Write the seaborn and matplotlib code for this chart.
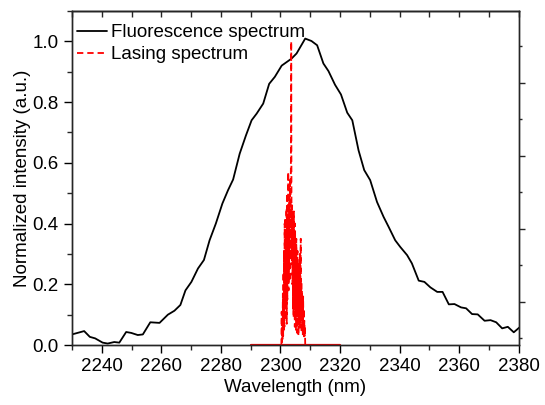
import pandas as pd
import seaborn as sns
import matplotlib.pyplot as plt
from matplotlib.ticker import MultipleLocator, FormatStrFormatter

# fluorescence spectrum
wl_fluo = [2230.0, 2234.1, 2236.0, 2237.8, 2240.3, 2242.0, 2244.2, 2245.9, 2248.2, 2249.9,
           2252.1, 2253.8, 2256.3, 2259.4, 2262.2, 2264.4, 2266.4, 2268.1, 2270.1, 2272.3,
           2274.3, 2276.2, 2278.3, 2280.5, 2282.4, 2284.1, 2286.3, 2288.4, 2290.3, 2292.0,
           2294.2, 2296.2, 2298.1, 2300.4, 2303.7, 2305.4, 2308.3, 2310.4, 2312.3, 2314.4,
           2316.1, 2318.3, 2320.3, 2322.4, 2324.1, 2326.2, 2328.1, 2330.1, 2332.4, 2334.6,
           2336.3, 2338.5, 2340.2, 2342.5, 2344.1, 2346.4, 2348.3, 2350.3, 2352.6, 2354.4,
           2356.5, 2358.4, 2360.6, 2362.3, 2364.3, 2366.2, 2368.5, 2370.5, 2372.4, 2374.4,
           2376.3, 2378.3, 2380.2]
int_fluo = [0.035, 0.046, 0.027, 0.022, 0.008, 0.005, 0.010, 0.008, 0.043, 0.040,
            0.033, 0.035, 0.075, 0.073, 0.100, 0.113, 0.132, 0.180, 0.208, 0.252,
            0.280, 0.345, 0.400, 0.466, 0.510, 0.545, 0.630, 0.690, 0.740, 0.762,
            0.795, 0.860, 0.883, 0.920, 0.943, 0.960, 1.009, 1.001, 0.987, 0.927,
            0.902, 0.857, 0.825, 0.765, 0.740, 0.641, 0.576, 0.543, 0.471, 0.422,
            0.389, 0.345, 0.323, 0.296, 0.269, 0.212, 0.208, 0.190, 0.175, 0.175,
            0.134, 0.135, 0.124, 0.121, 0.102, 0.101, 0.080, 0.082, 0.075, 0.055,
            0.060, 0.042, 0.058]

# lasing spectrum
wl_las = [2290.0, 2300.3, 2300.4, 2300.5, 2300.6, 2300.7, 2300.8, 2300.9, 2301.0, 2301.1,
          2301.2, 2301.3, 2301.4, 2301.5, 2301.6, 2301.7, 2301.8, 2301.9, 2302.0, 2302.1,
          2302.2, 2302.3, 2302.4, 2302.5, 2302.6, 2302.7, 2302.8, 2302.9, 2303.0, 2303.1,
          2303.2, 2303.3, 2303.4, 2303.5, 2303.6, 2303.7, 2303.8, 2303.9, 2304.0, 2304.1,
          2304.2, 2304.3, 2304.4, 2304.5, 2304.6, 2304.7, 2304.8, 2304.9, 2305.0, 2305.1,
          2305.2, 2305.3, 2305.4, 2305.5, 2305.6, 2305.7, 2305.8, 2305.9, 2306.0, 2306.1,
          2306.2, 2306.3, 2306.4, 2306.5, 2306.6, 2306.7, 2306.8, 2306.9, 2307.0, 2307.1,
          2307.2, 2307.3, 2307.4, 2307.5, 2307.6, 2307.7, 2307.8, 2307.9, 2308.0, 2308.1,
          2308.2, 2308.3, 2320.0]
int_las = [0.0, 0.0, 0.11, 0.01, 0.08, 0.02, 0.17, 0.03, 0.24, 0.05,
           0.31, 0.06, 0.40, 0.10, 0.42, 0.08, 0.36, 0.12, 0.45, 0.07,
           0.50, 0.15, 0.41, 0.22, 0.57, 0.18, 0.52, 0.26, 0.47, 0.21,
           0.55, 0.30, 0.44, 0.62, 1.00, 0.40, 0.28, 0.46, 0.20, 0.42,
           0.12, 0.38, 0.09, 0.44, 0.14, 0.36, 0.06, 0.40, 0.11, 0.33,
           0.05, 0.35, 0.10, 0.28, 0.04, 0.31, 0.09, 0.25, 0.03, 0.27,
           0.08, 0.22, 0.05, 0.30, 0.07, 0.24, 0.35, 0.10, 0.21, 0.04,
           0.18, 0.06, 0.15, 0.03, 0.16, 0.05, 0.12, 0.02, 0.08, 0.03,
           0.06, 0.0, 0.0]

fluo = pd.DataFrame({'wl': wl_fluo, 'I': int_fluo})
las = pd.DataFrame({'wl': wl_las, 'I': int_las})

sns.set_theme(style='ticks')
plt.rcParams['font.family'] = ['Liberation Sans', 'DejaVu Sans']
plt.rcParams['axes.linewidth'] = 1.0
plt.rcParams['text.color'] = 'black'
plt.rcParams['axes.labelcolor'] = 'black'

fig = plt.figure(figsize=(5.45, 4.05), dpi=100)
ax = fig.add_axes([0.132, 0.148, 0.820, 0.825])

sns.lineplot(data=fluo, x='wl', y='I', ax=ax, color='black', lw=1.3,
             estimator=None, sort=False, label='Fluorescence spectrum')
sns.lineplot(data=las, x='wl', y='I', ax=ax, color='#ff0000', lw=1.3,
             estimator=None, sort=False, linestyle=(0, (3.5, 2.2)),
             label='Lasing spectrum')
# flat part of the lasing trace along zero reads as a solid line
base = las[las['I'] == 0]
sns.lineplot(data=base, x='wl', y='I', ax=ax, color='#ff0000', lw=1.6,
             estimator=None, sort=False, legend=False)

ax.set_xlim(2230, 2380)
ax.set_ylim(0, 1.1)
ax.xaxis.set_major_locator(MultipleLocator(20))
ax.xaxis.set_minor_locator(MultipleLocator(10))
ax.yaxis.set_major_locator(MultipleLocator(0.2))
ax.yaxis.set_minor_locator(MultipleLocator(0.1))
ax.yaxis.set_major_formatter(FormatStrFormatter('%.1f'))
ax.tick_params(which='major', direction='out', length=6, width=1, labelsize=13.5,
               colors='black')
ax.tick_params(which='minor', direction='out', length=3.5, width=1)
ax.set_xlabel('Wavelength (nm)', fontsize=13.5, labelpad=3)
ax.set_ylabel('Normalized intensity (a.u.)', fontsize=13.5, labelpad=1)

# top axis: inward ticks every 10 nm, no labels
top = ax.secondary_xaxis('top')
top.set_xticks(list(range(2230, 2381, 10)))
top.set_xticklabels([])
top.tick_params(direction='in', length=4.5, width=1)

# right axis: outward ticks on its own scale, no labels
right = ax.twinx()
right.set_ylim(0.082, 0.997)
right.yaxis.set_major_locator(MultipleLocator(0.2))
right.yaxis.set_minor_locator(MultipleLocator(0.1))
right.set_yticklabels([])
right.tick_params(which='major', direction='out', length=4.5, width=1)
right.tick_params(which='minor', direction='out', length=2.5, width=1)

ax.legend(loc='upper left', bbox_to_anchor=(0.012, 0.96), frameon=False,
          fontsize=13.5, handlelength=1.6, handletextpad=0.2, labelspacing=0.25,
          borderpad=0, borderaxespad=0)

plt.savefig('out.png', dpi=100)
plt.close()
